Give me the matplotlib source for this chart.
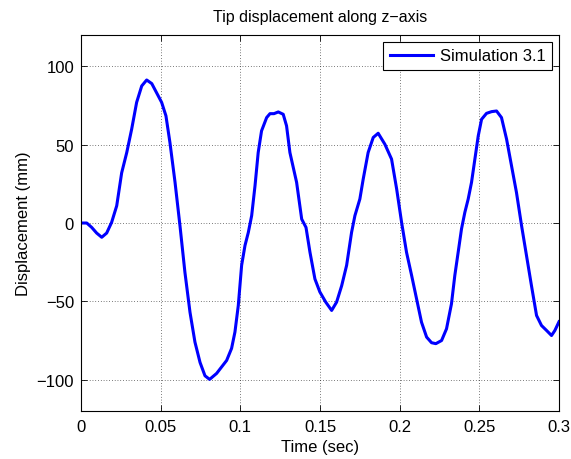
import matplotlib
matplotlib.use("Agg")
import matplotlib.pyplot as plt

# values (time in s, displacement in mm)
time_s = [0.0, 0.0036, 0.0067, 0.0098, 0.013, 0.0161, 0.0192, 0.0224, 0.0255, 0.0287,
          0.0318, 0.0349, 0.0381, 0.0412, 0.0444, 0.0475, 0.0506, 0.0533, 0.0558, 0.059,
          0.0621, 0.0652, 0.0684, 0.0715, 0.0747, 0.0778, 0.0807, 0.0851, 0.0914, 0.0945,
          0.0966, 0.0987, 0.1008, 0.1029, 0.105, 0.1071, 0.1092, 0.1112, 0.1133, 0.1165,
          0.1186, 0.1211, 0.1238, 0.1269, 0.129, 0.1311, 0.1353, 0.1385, 0.1412, 0.1437,
          0.1468, 0.1499, 0.1536, 0.1573, 0.1604, 0.1636, 0.1667, 0.1698, 0.1719, 0.175,
          0.1771, 0.1802, 0.1834, 0.1865, 0.1907, 0.1949, 0.1981, 0.2012, 0.2043, 0.2075,
          0.2106, 0.2137, 0.2169, 0.22, 0.2227, 0.2263, 0.2294, 0.2325, 0.2346, 0.2367,
          0.2388, 0.2409, 0.243, 0.2451, 0.2472, 0.2493, 0.2514, 0.2545, 0.2577, 0.2608,
          0.2639, 0.2671, 0.2702, 0.2733, 0.2765, 0.2796, 0.2827, 0.2859, 0.289, 0.2922,
          0.2953, 0.2974, 0.3]
disp_mm = [0.0, 0.0, -2.8, -6.4, -9.1, -6.4, 0.4, 11.0, 32.0, 45.0,
           60.0, 77.0, 87.5, 91.3, 89.0, 83.0, 77.0, 68.4, 51.4, 26.0,
           -1.7, -31.4, -57.0, -76.0, -89.0, -97.5, -99.8, -96.0, -87.7, -80.0,
           -69.6, -52.7, -27.0, -14.4, -6.0, 4.7, 23.8, 45.0, 58.8, 67.3,
           69.8, 69.8, 70.9, 69.4, 62.0, 45.0, 26.0, 2.5, -2.8, -18.7,
           -35.7, -44.0, -50.5, -55.8, -50.5, -40.0, -27.0, -6.0, 4.7, 15.3,
           28.0, 45.0, 54.6, 57.3, 50.3, 40.8, 21.7, 0.4, -18.7, -33.5,
           -48.4, -63.3, -72.8, -76.4, -77.0, -75.0, -67.5, -51.6, -33.5, -18.7,
           -3.8, 6.8, 15.3, 26.0, 40.8, 55.6, 66.2, 70.0, 71.1, 71.5,
           67.3, 53.5, 36.5, 19.5, -1.7, -20.8, -39.9, -59.0, -65.4, -68.6,
           -71.8, -68.6, -63.0]

x_ticks = [0, 0.05, 0.1, 0.15, 0.2, 0.25, 0.3]
x_tick_labels = ["0", "0.05", "0.1", "0.15", "0.2", "0.25", "0.3"]
y_ticks = [-100, -50, 0, 50, 100]
y_tick_labels = ["\u2212100", "\u221250", "0", "50", "100"]

plt.rcParams["font.family"] = ["Liberation Sans", "DejaVu Sans"]
plt.rcParams["font.size"] = 12

fig = plt.figure(figsize=(5.71, 4.60), dpi=100)
ax = fig.add_axes([0.1419, 0.1043, 0.8371, 0.8174])

ax.plot(time_s, disp_mm, color="#0000ff", linewidth=2.2, label="Simulation 3.1",
        solid_joinstyle="round")

ax.set_xlim(0, 0.3)
ax.set_ylim(-120, 120)
ax.set_xticks(x_ticks)
ax.set_xticklabels(x_tick_labels)
ax.set_yticks(y_ticks)
ax.set_yticklabels(y_tick_labels)
ax.tick_params(direction="in", top=True, right=True, length=4, width=0.6, pad=5)
ax.tick_params(axis="x", pad=6)
ax.grid(True, color="black", linestyle=(0, (1, 3)), linewidth=0.5)
for s in ax.spines.values():
    s.set_linewidth(0.8)

ax.set_title("Tip displacement along z\u2212axis", fontsize=11.5, pad=10)
ax.set_xlabel("Time (sec)", labelpad=3)
ax.set_ylabel("Displacement (mm)", labelpad=4)

leg = ax.legend(loc="upper right", fancybox=False, edgecolor="black", framealpha=1,
                borderpad=0.4, handlelength=2.6, handletextpad=0.4,
                borderaxespad=0.4)
leg.get_frame().set_linewidth(0.8)

fig.savefig("out.png", dpi=100)
